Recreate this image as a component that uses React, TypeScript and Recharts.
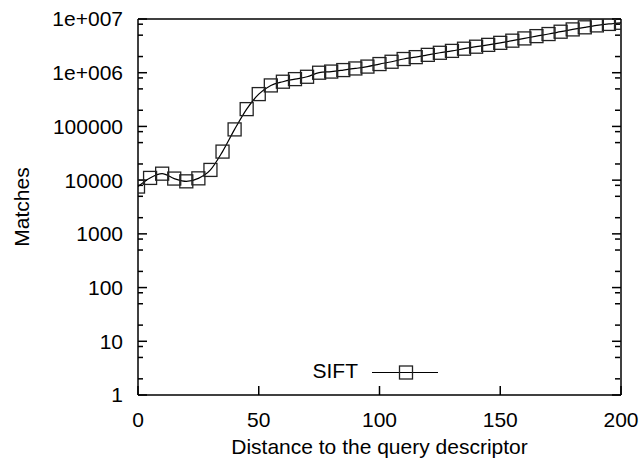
import React from 'react';
import { LineChart, Line, XAxis, YAxis, Legend } from 'recharts';

const distances = [
  0, 5, 10, 15, 20, 25, 30, 35, 40, 45, 50, 55, 60, 65, 70, 75, 80, 85, 90, 95, 100,
  105, 110, 115, 120, 125, 130, 135, 140, 145, 150, 155, 160, 165, 170, 175, 180, 185, 190, 195, 200,
];
const siftMatches = [
  7600, 11000, 13200, 10700, 9500, 10800, 15500, 34000, 88000, 210000, 400000,
  580000, 680000, 760000, 840000, 1000000, 1050000, 1120000, 1200000, 1300000, 1450000,
  1600000, 1800000, 1950000, 2150000, 2350000, 2550000, 2800000, 3050000, 3300000, 3600000,
  3950000, 4350000, 4800000, 5250000, 5800000, 6400000, 7000000, 7600000, 8100000, 8500000,
];
const xTicks = [0, 50, 100, 150, 200];
const xTopTicks = [50, 100, 150];
const yMajorTicks = [1, 10, 100, 1000, 10000, 100000, 1000000, 10000000];
const yTickLabels = ['1', '10', '100', '1000', '10000', '100000', '1e+006', '1e+007'];
const yMinorTicks = [
  2, 5, 8, 20, 50, 80, 200, 500, 800, 2000, 5000, 8000, 20000, 50000, 80000,
  200000, 500000, 800000, 2000000, 5000000, 8000000,
];
const seriesName = 'SIFT';

const data = distances.map((d, i) => ({ d, sift: siftMatches[i] }));

const FONT = '"Liberation Sans", Arial, Helvetica, sans-serif';
const FS = 21;
const AX = { stroke: '#000', strokeWidth: 1.5 };
const TL = { stroke: '#000', strokeWidth: 1.5 };
const blank = () => '';

const renderDot = (p: any) => {
  const { cx, cy, index } = p;
  if (cx == null || cy == null) return <g key={`d${index}`} />;
  return (
    <rect key={`d${index}`} x={cx - 6.5} y={cy - 6.5} width={13} height={13}
      fill="none" stroke="#222" strokeWidth={1.3} />
  );
};

const LegendContent = () => (
  <svg width={150} height={32} style={{ display: 'block' }}>
    <text x={58} y={28} textAnchor="end" fontSize={FS} fontFamily={FONT} fill="#000">{seriesName}</text>
    <line x1={72} y1={22.5} x2={138} y2={22.5} stroke="#000" strokeWidth={1.2} />
    <rect x={99.5} y={16} width={13} height={13} fill="none" stroke="#222" strokeWidth={1.3} />
  </svg>
);

export default function App() {
  return (
    <div style={{ position: 'absolute', left: 0, top: 0, width: 640, height: 464, background: '#fff' }}>
      <LineChart width={640} height={464} data={data}
        margin={{ top: 19, right: 19, bottom: 0, left: 0 }}
        style={{ fontFamily: FONT }}>
        <XAxis xAxisId="b" dataKey="d" type="number" domain={[0, 200]} ticks={xTicks}
          allowDataOverflow height={69} tickSize={-9} tickMargin={26}
          axisLine={AX} tickLine={TL} tick={{ fill: '#000', fontSize: FS }}
          label={{ value: 'Distance to the query descriptor', position: 'insideBottom', offset: 10, fill: '#000', fontSize: FS }} />
        <XAxis xAxisId="t" orientation="top" mirror type="number" domain={[0, 200]} ticks={xTopTicks}
          allowDataOverflow height={1} tickSize={9} tickFormatter={blank}
          axisLine={AX} tickLine={TL} />
        <YAxis yAxisId="lm" mirror type="number" scale="log" domain={[1, 10000000]} ticks={yMinorTicks}
          allowDataOverflow width={1} tickSize={5} tickFormatter={blank}
          axisLine={false} tickLine={TL} />
        <YAxis yAxisId="l" type="number" scale="log" domain={[1, 10000000]} ticks={yMajorTicks}
          allowDataOverflow width={138} tickSize={-9} tickMargin={24}
          tickFormatter={(v: number) => yTickLabels[yMajorTicks.indexOf(v)] ?? String(v)}
          axisLine={AX} tickLine={TL} tick={{ fill: '#000', fontSize: FS }}
          label={{ value: 'Matches', angle: -90, position: 'insideLeft', offset: 22, fill: '#000', fontSize: FS, style: { textAnchor: 'middle' } }} />
        <YAxis yAxisId="r" orientation="right" mirror type="number" scale="log" domain={[1, 10000000]} ticks={yMajorTicks}
          allowDataOverflow width={1} tickSize={9} tickFormatter={blank}
          axisLine={AX} tickLine={TL} />
        <YAxis yAxisId="rm" orientation="right" mirror type="number" scale="log" domain={[1, 10000000]} ticks={yMinorTicks}
          allowDataOverflow width={1} tickSize={5} tickFormatter={blank}
          axisLine={false} tickLine={TL} />
        <Legend verticalAlign="middle" align="center" layout="horizontal"
          wrapperStyle={{ position: 'absolute', left: 300, top: 350, width: 150, height: 32 }}
          content={LegendContent} />
        <Line xAxisId="b" yAxisId="l" dataKey="sift" name={seriesName} type="monotone"
          stroke="#000" strokeWidth={1.2} dot={renderDot} activeDot={false}
          isAnimationActive={false} />
      </LineChart>
    </div>
  );
}
